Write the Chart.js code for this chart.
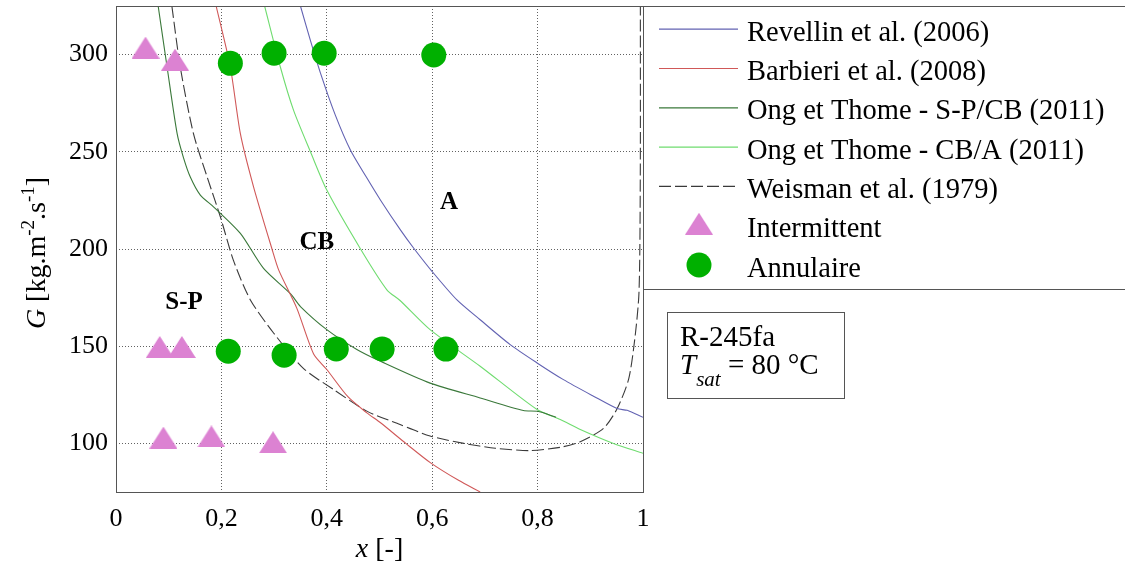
<!DOCTYPE html>
<html>
<head>
<meta charset="utf-8">
<script src="https://cdn.jsdelivr.net/npm/chart.js@4.4.0/dist/chart.umd.min.js"></script>
<style>
  html, body { margin: 0; padding: 0; background: #fff; }
  #wrap { width: 1125px; height: 568px; }
</style>
</head>
<body>
<div id="wrap"><canvas id="chart" width="1125" height="568"></canvas></div>
<script>
// Axis ticks
const xTicks = [0, 0.2, 0.4, 0.6, 0.8, 1];
const xTickLabels = ['0', '0,2', '0,4', '0,6', '0,8', '1'];
const yTicks = [100, 150, 200, 250, 300];
const yTickLabels = ['100', '150', '200', '250', '300'];

// Transition curves, x = vapour quality, G = mass flux
const revellinX = [0.350, 0.369, 0.388, 0.416, 0.445, 0.475, 0.502, 0.540, 0.565, 0.600, 0.647, 0.691, 0.748, 0.799, 0.849, 0.906, 0.951, 0.970, 1.0];
const revellinG = [325, 307.2, 290.5, 269, 250.8, 237, 225.1, 209.7, 200.4, 188.4, 173.8, 163.6, 150.8, 141.4, 132.8, 124.3, 117.9, 117.0, 113.4];

const barbieriX = [0.190, 0.217, 0.236, 0.261, 0.296, 0.309, 0.343, 0.375, 0.400, 0.440, 0.476, 0.502, 0.550, 0.597, 0.650, 0.691];
const barbieriG = [325, 293.5, 259.3, 232, 200, 189, 169.6, 146, 138, 124, 115.7, 110.6, 100, 90, 81, 75];

const ongSpX = [0.080, 0.097, 0.116, 0.128, 0.141, 0.160, 0.185, 0.236, 0.280, 0.331, 0.350, 0.400, 0.457, 0.502, 0.596, 0.691, 0.773, 0.800, 0.835];
const ongSpG = [325, 293.5, 259.3, 247, 237, 227.7, 221.7, 208, 190, 177, 170.4, 158.5, 148.3, 142.2, 131, 123.4, 116.9, 116.5, 113.5];

const ongCbX = [0.282, 0.312, 0.337, 0.369, 0.400, 0.464, 0.514, 0.539, 0.596, 0.691, 0.799, 0.843, 0.881, 0.944, 1.0];
const ongCbG = [325, 293.5, 271.3, 250, 230.3, 200, 179, 173.5, 158.5, 139.7, 117.4, 112.3, 107.2, 100, 94.9];

const weismanX = [0.106, 0.122, 0.147, 0.173, 0.198, 0.223, 0.255, 0.299, 0.356, 0.413, 0.476, 0.539, 0.596, 0.660, 0.720, 0.786, 0.843, 0.881, 0.925, 0.951, 0.973, 0.985, 0.992, 0.994, 0.995, 0.995];
const weismanG = [325, 293.5, 259.3, 237, 216.6, 194, 173.8, 156.8, 138.5, 127.7, 116.6, 109.7, 103.8, 100, 97.5, 96.3, 98.0, 100.9, 107.7, 117.9, 133.3, 155, 175.5, 200, 250, 325];

// Measured points
const intermittentX = [0.056, 0.112, 0.083, 0.125, 0.090, 0.181, 0.298];
const intermittentG = [303.6, 297.4, 149.6, 149.6, 103.0, 103.6, 100.6];
const annulaireX = [0.217, 0.300, 0.395, 0.603, 0.213, 0.319, 0.418, 0.505, 0.626];
const annulaireG = [295.5, 300.7, 300.7, 299.8, 147.4, 145.4, 148.6, 148.6, 148.5];

// Flow regime labels
const regionNames = ['S-P', 'CB', 'A'];
const regionX = [0.129, 0.381, 0.632];
const regionG = [172.6, 203.2, 223.8];

const seriesLabels = [
    'Revellin et al. (2006)',
    'Barbieri et al. (2008)',
    'Ong et Thome - S-P/CB (2011)',
    'Ong et Thome - CB/A (2011)',
    'Weisman et al. (1979)',
    'Intermittent',
    'Annulaire'
];

const SERIF = '"Liberation Serif", "Times New Roman", serif';

function toPoints(xs, ys) {
    return xs.map((x, i) => ({ x: x, y: ys[i] }));
}

// Triangle marker, centred on its bounding box like the original plot
function makeTriangle(w, h, color) {
    const c = document.createElement('canvas');
    c.width = w;
    c.height = h;
    const g = c.getContext('2d');
    g.fillStyle = color;
    g.beginPath();
    g.moveTo(w / 2, 0);
    g.lineTo(w, h);
    g.lineTo(0, h);
    g.closePath();
    g.fill();
    return c;
}

const triangleImg = makeTriangle(28, 22, '#dc82d2');

function lineSet(label, xs, ys, color, dash) {
    return {
        type: 'scatter',
        label: label,
        data: toPoints(xs, ys),
        showLine: true,
        borderColor: color,
        backgroundColor: color,
        borderWidth: 1.1,
        borderDash: dash || [],
        pointRadius: 0,
        tension: 0.25,
        order: 2
    };
}

const datasets = [
    lineSet(seriesLabels[0], revellinX, revellinG, '#6262b2'),
    lineSet(seriesLabels[1], barbieriX, barbieriG, '#d05858'),
    lineSet(seriesLabels[2], ongSpX, ongSpG, '#3a783a'),
    lineSet(seriesLabels[3], ongCbX, ongCbG, '#6fdc6f'),
    lineSet(seriesLabels[4], weismanX, weismanG, '#3a3a3a', [12, 4]),
    {
        type: 'scatter',
        label: seriesLabels[5],
        data: toPoints(intermittentX, intermittentG),
        pointStyle: triangleImg,
        pointRadius: 12,
        order: 0
    },
    {
        type: 'scatter',
        label: seriesLabels[6],
        data: toPoints(annulaireX, annulaireG),
        pointStyle: 'circle',
        pointRadius: 12.5,
        pointBorderWidth: 0,
        backgroundColor: '#00b000',
        borderColor: '#00b000',
        order: 0
    }
];

// Draws runs of text with different fonts / baseline shifts
function drawRuns(ctx, runs, x, y, align) {
    let total = 0;
    runs.forEach(r => { ctx.font = r.font; total += ctx.measureText(r.text).width; });
    let cx = align === 'center' ? x - total / 2 : x;
    ctx.textAlign = 'left';
    ctx.textBaseline = 'alphabetic';
    runs.forEach(r => {
        ctx.font = r.font;
        ctx.fillText(r.text, cx, y + (r.dy || 0));
        cx += ctx.measureText(r.text).width;
    });
}

const decorations = {
    id: 'decorations',
    afterDraw(chart) {
        const ctx = chart.ctx;
        const area = chart.chartArea;
        const xs = chart.scales.x;
        const ys = chart.scales.y;
        ctx.save();

        // plot frame and legend frame
        ctx.strokeStyle = '#555';
        ctx.lineWidth = 1;
        ctx.setLineDash([]);
        ctx.strokeRect(area.left + 0.5, area.top + 0.5, area.right - area.left, area.bottom - area.top);
        ctx.beginPath();
        ctx.moveTo(area.right, area.top + 0.5);
        ctx.lineTo(1125, area.top + 0.5);
        ctx.moveTo(area.right + 0.5, 289.5);
        ctx.lineTo(1125, 289.5);
        ctx.stroke();

        // regime labels
        ctx.fillStyle = '#000';
        ctx.font = 'bold 25px ' + SERIF;
        ctx.textAlign = 'center';
        ctx.textBaseline = 'middle';
        regionNames.forEach((name, i) => {
            ctx.fillText(name, xs.getPixelForValue(regionX[i]), ys.getPixelForValue(regionG[i]));
        });

        // legend
        const rowTop = 40.7;
        const rowStep = 39.3;
        ctx.font = '28.5px ' + SERIF;
        ctx.textAlign = 'left';
        ctx.textBaseline = 'alphabetic';
        chart.data.datasets.forEach((ds, i) => {
            const base = rowTop + i * rowStep;
            const my = base - 11.5;
            if (i < 5) {
                ctx.strokeStyle = ds.borderColor;
                ctx.lineWidth = 1.2;
                ctx.setLineDash(ds.borderDash || []);
                ctx.beginPath();
                ctx.moveTo(659, my);
                ctx.lineTo(738, my);
                ctx.stroke();
                ctx.setLineDash([]);
            } else if (i === 5) {
                ctx.drawImage(triangleImg, 699 - 14, my - 13);
            } else {
                ctx.fillStyle = ds.backgroundColor;
                ctx.beginPath();
                ctx.arc(699, my, 12.5, 0, Math.PI * 2);
                ctx.fill();
            }
            ctx.fillStyle = '#000';
            ctx.fillText(ds.label, 747, base);
        });

        // condition box
        ctx.strokeStyle = '#555';
        ctx.lineWidth = 1;
        ctx.strokeRect(667.5, 312.5, 177, 86);
        ctx.fillStyle = '#000';
        drawRuns(ctx, [{ text: 'R-245fa', font: '29px ' + SERIF }], 680, 345.5);
        drawRuns(ctx, [
            { text: 'T', font: 'italic 29px ' + SERIF },
            { text: 'sat', font: 'italic 21px ' + SERIF, dy: 12 },
            { text: ' = 80 °C', font: '29px ' + SERIF }
        ], 680, 374);

        // x axis title
        drawRuns(ctx, [
            { text: 'x', font: 'italic 28px ' + SERIF },
            { text: ' [-]', font: '28px ' + SERIF }
        ], (area.left + area.right) / 2, 557, 'center');

        // y axis title
        ctx.translate(45, 253);
        ctx.rotate(-Math.PI / 2);
        drawRuns(ctx, [
            { text: 'G', font: 'italic 28px ' + SERIF },
            { text: ' [kg.m', font: '28px ' + SERIF },
            { text: '-2', font: '19px ' + SERIF, dy: -11 },
            { text: '.s', font: '28px ' + SERIF },
            { text: '-1', font: '19px ' + SERIF, dy: -11 },
            { text: ']', font: '28px ' + SERIF }
        ], 0, 0, 'center');

        ctx.restore();
    }
};

const gridStyle = {
    color: 'rgba(70,70,70,0.85)',
    lineWidth: 1,
    drawTicks: false
};

// keep the plot box fixed: no extra padding for edge tick labels
function noPadding(scale) {
    scale.paddingTop = 0;
    scale.paddingBottom = 0;
    scale.paddingLeft = 0;
    scale.paddingRight = 0;
}

new Chart(document.getElementById('chart'), {
    type: 'scatter',
    data: { datasets: datasets },
    options: {
        responsive: false,
        animation: false,
        devicePixelRatio: 1,
        layout: { autoPadding: false, padding: { top: 6, right: 482, left: 0, bottom: 0 } },
        plugins: {
            legend: { display: false },
            tooltip: { enabled: false }
        },
        scales: {
            x: {
                type: 'linear',
                min: 0,
                max: 1,
                grid: gridStyle,
                border: { display: false, dash: [1, 2] },
                afterBuildTicks(scale) { scale.ticks = xTicks.map(v => ({ value: v })); },
                afterFit(scale) { scale.height = 76; noPadding(scale); },
                ticks: {
                    padding: 12,
                    color: '#000',
                    font: { family: SERIF, size: 26 },
                    maxRotation: 0,
                    callback: (v, i) => xTickLabels[i]
                }
            },
            y: {
                type: 'linear',
                min: 75,
                max: 325,
                grid: gridStyle,
                border: { display: false, dash: [1, 2] },
                afterBuildTicks(scale) { scale.ticks = yTicks.map(v => ({ value: v })); },
                afterFit(scale) { scale.width = 116; noPadding(scale); },
                ticks: {
                    padding: 8,
                    color: '#000',
                    font: { family: SERIF, size: 26 },
                    callback: (v, i) => yTickLabels[i]
                }
            }
        }
    },
    plugins: [decorations]
});
</script>
</body>
</html>
